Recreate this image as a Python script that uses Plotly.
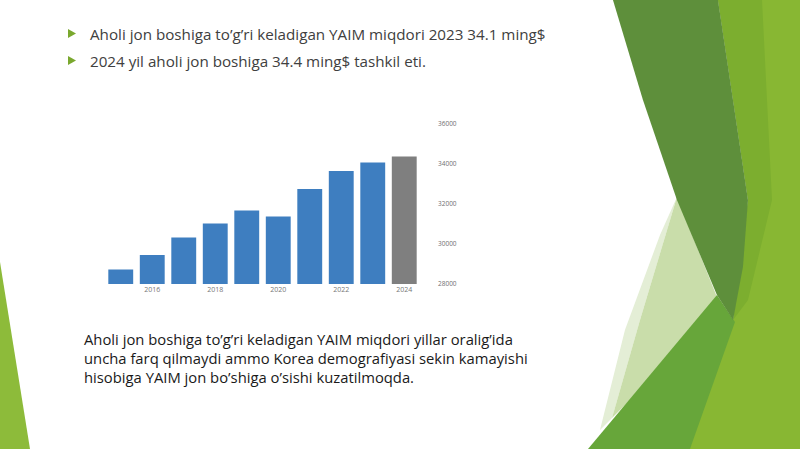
import plotly.graph_objects as go

years = [2015, 2016, 2017, 2018, 2019, 2020, 2021, 2022, 2023, 2024]
gdp_per_capita = [28730, 29450, 30330, 31030, 31670, 31370, 32750, 33650, 34070, 34370]
bar_colors = ["#3E7EC0"] * 9 + ["#7F7F7F"]
x_ticks = [2016, 2018, 2020, 2022, 2024]
y_ticks = [28000, 30000, 32000, 34000, 36000]

bullets = [
    "Aholi jon boshiga to’g’ri keladigan YAIM miqdori 2023 34.1 ming$",
    "2024 yil aholi jon boshiga 34.4 ming$ tashkil eti.",
]
paragraph = ("Aholi jon boshiga to’g’ri keladigan YAIM miqdori yillar oralig’ida<br>"
             "uncha farq qilmaydi ammo Korea demografiyasi sekin kamayishi<br>"
             "hisobiga YAIM jon bo’shiga o’sishi kuzatilmoqda.")

W, H = 800, 449

def px(x, y):
    return x / W, 1 - y / H

def poly(points, color):
    p = [px(x, y) for x, y in points]
    path = "M " + " L ".join(f"{a:.4f},{b:.4f}" for a, b in p) + " Z"
    return dict(type="path", xref="paper", yref="paper", path=path,
                fillcolor=color, line=dict(width=0), layer="below")

shapes = [
    # right lime area
    poly([(718, 0), (800, 0), (800, 449), (683, 449), (733, 320), (748, 200), (733, 100)], "#88B733"),
    poly([(718, 0), (762, 0), (772, 200), (748, 300), (733, 320), (748, 200), (733, 100)], "#7CAE2F"),
    # very pale sliver
    poly([(660, 235), (677, 197), (640, 320), (612, 418), (600, 430), (625, 330)], "#E4EED6"),
    # pale green triangle
    poly([(677, 197), (717, 297), (700, 330), (612, 418), (640, 320)], "#C9DDAA"),
    # medium green lower band
    poly([(588, 449), (717, 295), (735, 322), (690, 449)], "#67A63A"),
    # dark green band
    poly([(613, 0), (718, 0), (733, 100), (748, 200), (743, 267), (733, 320), (717, 295),
          (677, 200), (643, 100)], "#5E8F3B"),
    # bottom-left lime sliver
    poly([(0, 262), (30, 449), (0, 449)], "#8DBB3A"),
    # bullet triangles
    poly([(68, 29), (76, 33.5), (68, 38)], "#7AA82E"),
    poly([(68, 56), (76, 60.5), (68, 65)], "#7AA82E"),
]

fig = go.Figure(go.Bar(
    x=years, y=gdp_per_capita, marker=dict(color=bar_colors, line=dict(width=0)),
    width=0.79, showlegend=False,
))

annotations = []
for i, t in enumerate(bullets):
    xx, yy = px(88, 34 + 27 * i)
    annotations.append(dict(text=t, x=xx, y=yy, xref="paper", yref="paper",
                            xanchor="left", yanchor="middle", showarrow=False,
                            font=dict(family="Open Sans", size=15.2, color="#404040")))
xx, yy = px(81.5, 358)
annotations.append(dict(text=paragraph, x=xx, y=yy, xref="paper", yref="paper",
                        xanchor="left", yanchor="middle", align="left", showarrow=False,
                        font=dict(family="Open Sans", size=14.8, color="#1A1A1A")))

fig.update_layout(
    template="none",
    width=W, height=H, margin=dict(l=0, r=0, t=0, b=0),
    paper_bgcolor="white", plot_bgcolor="rgba(0,0,0,0)",
    shapes=shapes, annotations=annotations, bargap=0.21,
    xaxis=dict(domain=[105 / W, 420 / W], range=[2014.5, 2024.5], tickvals=x_ticks,
               showgrid=False, zeroline=False, showline=False, ticks="",
               automargin=False,
               tickfont=dict(family="Open Sans", size=7, color="#777777")),
    yaxis=dict(domain=[1 - 284 / H, 1 - 124 / H], range=[28000, 36000], side="right",
               tickvals=y_ticks, tickformat="d", showgrid=False, zeroline=False,
               showline=False, ticks="", ticklabelstandoff=17, automargin=False,
               tickfont=dict(family="Open Sans", size=6.5, color="#707070")),
)

fig.write_html("out.html", config={"displayModeBar": False},
               post_script="document.body.style.margin='0';document.body.style.overflow='hidden';")
